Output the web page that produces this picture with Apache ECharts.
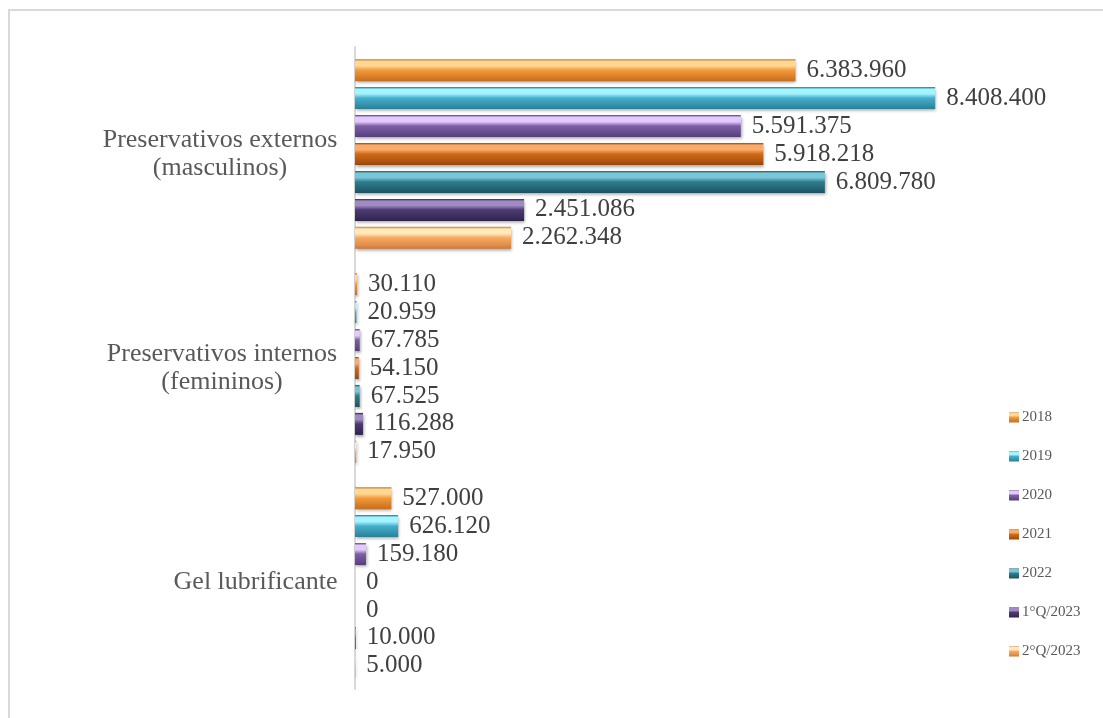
<!DOCTYPE html>
<html>
<head>
<meta charset="utf-8">
<title>Distribuição de insumos de prevenção</title>
<script src="https://cdn.jsdelivr.net/npm/echarts@6/dist/echarts.min.js"></script>
<style>
  html, body { margin: 0; padding: 0; background: #ffffff; }
  #frame { position: absolute; left: 8px; top: 9px; width: 1200px; height: 800px;
           border-top: 2px solid #d9d9d9; border-left: 2px solid #d9d9d9; }
  #chart { position: absolute; left: 0; top: 0; width: 1103px; height: 718px; }
</style>
</head>
<body>
<div id="frame"></div>
<div id="chart"></div>
<script>
// Product categories (top to bottom)
const categories = [
  'Preservativos externos\n(masculinos)',
  'Preservativos internos\n(femininos)',
  'Gel lubrificante'
];

// Periods shown in the legend
const periods = ['2018', '2019', '2020', '2021', '2022', '1°Q/2023', '2°Q/2023'];

// Units distributed per period, in category order
const v2018   = [6383960, 30110, 527000];
const v2019   = [8408400, 20959, 626120];
const v2020   = [5591375, 67785, 159180];
const v2021   = [5918218, 54150, 0];
const v2022   = [6809780, 67525, 0];
const v1Q2023 = [2451086, 116288, 10000];
const v2Q2023 = [2262348, 17950, 5000];

const seriesValues = [v2018, v2019, v2020, v2021, v2022, v1Q2023, v2Q2023];

// Shading for each period: [edge, highlight, base, shade]
const palette = [
  ['#c86f20', '#ffd894', '#f39a3b', '#d47a26'],
  ['#2a7f96', '#a4f4ff', '#45afcb', '#318ea8'],
  ['#573d7d', '#e3c9ff', '#7e5fa6', '#62478a'],
  ['#97460a', '#f7ac6c', '#d06a17', '#ab5310'],
  ['#1a5260', '#78c6d6', '#2e7c8e', '#22616f'],
  ['#2e2148', '#a08ac2', '#4d3a72', '#3a2b5a'],
  ['#c9773a', '#ffebb8', '#f7a865', '#e08c47']
];

function barFill(p) {
  return new echarts.graphic.LinearGradient(0, 0, 0, 1, [
    { offset: 0.0,  color: p[0] },
    { offset: 0.10, color: p[1] },
    { offset: 0.30, color: p[1] },
    { offset: 0.50, color: p[2] },
    { offset: 0.85, color: p[3] },
    { offset: 1.0,  color: p[0] }
  ]);
}

// Thousands separated with dots
function fmt(n) {
  return String(n).replace(/\B(?=(\d{3})+(?!\d))/g, '.');
}

const labelFont = '"Liberation Serif", "DejaVu Serif", serif';
const catFontSize = 26;

// Keep multi-line category names centred on each other while the block stays right-aligned
const measureCtx = document.createElement('canvas').getContext('2d');
measureCtx.font = catFontSize + 'px ' + labelFont;
const rich = {};
categories.forEach((c, i) => {
  const w = Math.max(...c.split('\n').map(l => measureCtx.measureText(l).width));
  rich['c' + i] = { width: Math.ceil(w) + 1, align: 'center', fontSize: catFontSize,
                    fontFamily: labelFont, color: '#595959', lineHeight: 28 };
});

const chart = echarts.init(document.getElementById('chart'), null, { renderer: 'canvas' });

const option = {
  backgroundColor: 'transparent',
  animation: false,
  grid: { left: 355, top: 47, width: 621, bottom: 29, containLabel: false },
  xAxis: {
    type: 'value', min: 0, max: 9000000,
    show: false
  },
  yAxis: {
    type: 'category',
    data: categories,
    inverse: true,
    axisLine: { show: true, lineStyle: { color: '#d9d9d9', width: 2 } },
    axisTick: { show: false },
    axisLabel: {
      margin: 17,
      formatter: (val, idx) => val.split('\n').map(l => '{c' + idx + '|' + l + '}').join('\n'),
      rich: rich
    }
  },
  legend: {
    orient: 'vertical',
    left: 1004,
    top: 405,
    itemWidth: 10,
    itemHeight: 10,
    itemGap: 24,
    icon: 'rect',
    textStyle: { fontFamily: labelFont, fontSize: 15, color: '#595959', padding: [0, 0, 0, -2] },
    data: periods
  },
  series: periods.map((name, i) => ({
    name: name,
    type: 'bar',
    data: seriesValues[i],
    barWidth: 22,
    barGap: '27%',
    barCategoryGap: '11%',
    itemStyle: {
      color: barFill(palette[i]),
      borderWidth: 0,
      shadowColor: 'rgba(0,0,0,0.35)',
      shadowBlur: 3,
      shadowOffsetX: 1,
      shadowOffsetY: 2
    },
    label: {
      show: true,
      position: 'right',
      distance: 11,
      formatter: p => fmt(p.value),
      fontFamily: labelFont,
      fontSize: 25,
      color: '#404040'
    }
  }))
};

chart.setOption(option);
</script>
</body>
</html>
